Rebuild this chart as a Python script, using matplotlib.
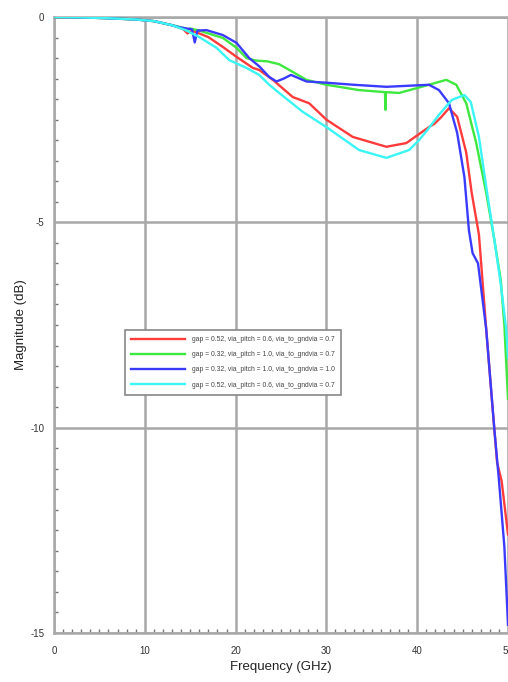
import matplotlib
matplotlib.use("Agg")
import matplotlib.pyplot as plt
from matplotlib.ticker import MultipleLocator

# ---------------- data ----------------
labels = [
    "gap = 0.52, via_pitch = 0.6, via_to_gndvia = 0.7",
    "gap = 0.32, via_pitch = 1.0, via_to_gndvia = 0.7",
    "gap = 0.32, via_pitch = 1.0, via_to_gndvia = 1.0",
    "gap = 0.52, via_pitch = 0.6, via_to_gndvia = 0.7",
]

f_red = [0, 3, 6, 9, 11, 13, 14.2, 14.7, 15.2, 16, 17, 18.6, 20.1, 21.9, 22.6, 24.1, 26.3, 28.1,
         30, 32.9, 36.6, 38.8, 41.3, 41.9, 42.6, 43.5, 44.4, 45.4, 46.0, 46.8, 47.6, 48.2, 48.8,
         49.3, 50]
m_red = [0, -0.01, -0.03, -0.06, -0.1, -0.2, -0.29, -0.40, -0.33, -0.40, -0.49, -0.73, -0.97,
         -1.24, -1.29, -1.53, -1.95, -2.1, -2.5, -2.92, -3.16, -3.07, -2.68, -2.6, -2.45, -2.22,
         -2.43, -3.3, -4.28, -5.3, -7.6, -9.25, -10.85, -11.3, -12.6]

f_green = [0, 3, 6, 9, 11, 13, 14.3, 14.6, 15, 16, 17, 18.6, 20.1, 21.2, 22.2, 23.5, 24.8, 26,
           27.8, 30, 33.6, 36.45, 36.5, 36.55, 38, 41.3, 43.2, 44.3, 45.4, 46.5, 47.6, 48.5, 49.2,
           49.6, 50]
m_green = [0, -0.01, -0.03, -0.06, -0.1, -0.2, -0.27, -0.33, -0.28, -0.33, -0.4, -0.51, -0.75,
           -1.0, -1.06, -1.08, -1.15, -1.3, -1.53, -1.65, -1.78, -1.83, -2.26, -1.83, -1.85,
           -1.65, -1.53, -1.65, -2.1, -3.07, -4.28, -5.43, -6.4, -7.5, -9.3]

f_blue = [0, 3, 6, 9, 11, 13, 13.8, 15.2, 15.5, 15.8, 16.8, 18.6, 20.1, 21.5, 22.6, 23.7, 24.5,
          25.3, 26.1, 27.8, 30, 33, 36.6, 41.3, 42.4, 43.5, 44.4, 45.2, 45.7, 46.1, 46.7, 47.6,
          48.5, 49.0, 49.6, 50]
m_blue = [0, -0.01, -0.03, -0.06, -0.1, -0.2, -0.25, -0.3, -0.62, -0.33, -0.32, -0.44, -0.63,
          -1.0, -1.2, -1.46, -1.57, -1.5, -1.41, -1.57, -1.6, -1.65, -1.7, -1.65, -1.78, -2.1,
          -2.82, -3.9, -5.2, -5.75, -6.0, -7.6, -10.05, -11.27, -12.9, -14.8]

f_cyan = [0, 3, 6, 9, 11, 13, 14.5, 16, 17.9, 19.3, 21.2, 22.6, 23.7, 24.8, 27.4, 30, 33.6, 36.6,
          39.1, 40.2, 41.3, 42.4, 43.8, 45.2, 45.9, 46.8, 47.7, 48.5, 49.2, 49.8, 50]
m_cyan = [0, -0.01, -0.03, -0.06, -0.1, -0.2, -0.32, -0.49, -0.75, -1.05, -1.24, -1.41, -1.65,
          -1.85, -2.31, -2.68, -3.24, -3.43, -3.24, -3.0, -2.7, -2.38, -2.02, -1.9, -2.07, -2.92,
          -4.28, -5.43, -6.5, -7.6, -8.3]

x_ticks = [0, 10, 20, 30, 40, 50]
y_ticks = [0, -5, -10, -15]

# ---------------- figure ----------------
font = ["Liberation Sans", "DejaVu Sans"]
fig = plt.figure(figsize=(5.08, 6.82), dpi=100)
ax = fig.add_axes([54 / 508, 1 - 633 / 682, 1 - 54 / 508, (633 - 17) / 682])

colors = ["#ff3b3b", "#3ee83e", "#3b3bff", "#3bf5f5"]
series = [(f_red, m_red), (f_green, m_green), (f_blue, m_blue), (f_cyan, m_cyan)]
for (f, m), c, lab in zip(series, colors, labels):
    ax.plot(f, m, color=c, lw=1.7, label=lab, zorder=3)

ax.set_xlim(0, 50)
ax.set_ylim(-15, 0)
ax.set_xticks(x_ticks)
ax.set_yticks(y_ticks)
ax.set_xticklabels([str(v) for v in x_ticks], fontfamily=font, fontsize=7, color="#333333")
ax.set_yticklabels([str(v) for v in y_ticks], fontfamily=font, fontsize=7, color="#333333")
ax.xaxis.set_minor_locator(MultipleLocator(1))
ax.yaxis.set_minor_locator(MultipleLocator(0.5))
ax.tick_params(which="both", direction="in", color="#777777", width=1.0)
ax.tick_params(which="major", length=0)
ax.tick_params(axis="x", which="major", pad=9)
ax.tick_params(axis="y", which="major", pad=7)
ax.tick_params(which="minor", length=3)

ax.grid(True, which="major", color="#a8a8a8", lw=1.8, zorder=1)
for side in ["left", "bottom", "top"]:
    ax.spines[side].set_color("#a8a8a8")
    ax.spines[side].set_linewidth(1.8)
ax.spines["right"].set_visible(False)

ax.set_xlabel("Frequency (GHz)", fontfamily=font, fontsize=9.5, color="#222222", labelpad=4)
ax.set_ylabel("Magnitude (dB)", fontfamily=font, fontsize=9.5, color="#222222", labelpad=2)

leg = ax.legend(loc="upper left", bbox_to_anchor=(0.156, 0.492), borderaxespad=0,
                prop={"family": font, "size": 4.9}, handlelength=8.0, labelspacing=1.2,
                fancybox=False, framealpha=1, edgecolor="#888888", handletextpad=1.0,
                borderpad=0.9)
leg.get_frame().set_linewidth(1.2)
for t in leg.get_texts():
    t.set_color("#444444")

fig.savefig("out.png", dpi=100)
